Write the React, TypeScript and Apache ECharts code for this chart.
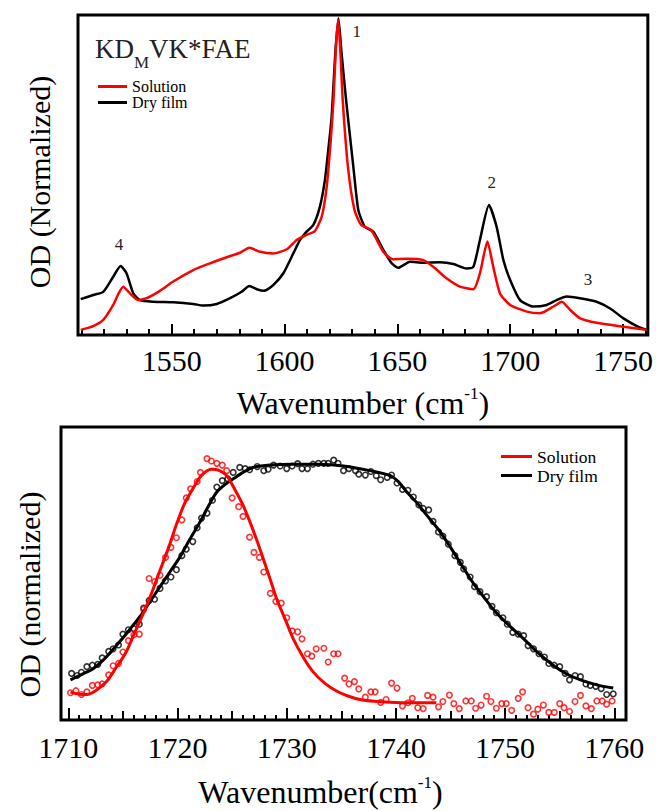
import React, { useEffect, useRef } from "react";
import * as echarts from "echarts";

const FONT = "Liberation Serif";

// ---------- Top panel: FTIR spectra ----------
const topSolutionX = [1509.7, 1515.3, 1519.7, 1524.1, 1526.5, 1528.5, 1531.5, 1535.2, 1538.9, 1544.8, 1550.7, 1559.6, 1567, 1574.4, 1580.3, 1584.4, 1589.2, 1595, 1601, 1605.4, 1609.8, 1613.5, 1616.5, 1618.7, 1620.5, 1621.7, 1622.8, 1623.8, 1624.8, 1625.8, 1628.1, 1631, 1634, 1638.4, 1643.8, 1648, 1654, 1661.5, 1665.9, 1671.8, 1677.7, 1683.7, 1686.6, 1689.9, 1692.5, 1695.5, 1700, 1707.4, 1713.3, 1719.2, 1722.9, 1726.6, 1731, 1738.4, 1750.2, 1760.5];
const topSolutionY = [0.016, 0.028, 0.047, 0.094, 0.13, 0.151, 0.13, 0.109, 0.115, 0.138, 0.167, 0.203, 0.224, 0.243, 0.257, 0.273, 0.26, 0.255, 0.268, 0.297, 0.313, 0.325, 0.37, 0.463, 0.609, 0.734, 0.9, 0.985, 0.88, 0.734, 0.526, 0.391, 0.344, 0.328, 0.26, 0.237, 0.238, 0.234, 0.213, 0.177, 0.151, 0.143, 0.193, 0.292, 0.213, 0.13, 0.094, 0.073, 0.068, 0.089, 0.104, 0.078, 0.052, 0.038, 0.026, 0.016];

const topDryX = [1509.7, 1515.3, 1519.7, 1524.1, 1527.4, 1530, 1533, 1536, 1541.8, 1550.7, 1559.6, 1564, 1570, 1575.9, 1581, 1584.4, 1587.7, 1590.9, 1595, 1599.5, 1603.9, 1606.9, 1609.8, 1612.8, 1615.7, 1617.9, 1619.4, 1620.9, 1622.5, 1623.9, 1625.3, 1627.3, 1630.5, 1632.7, 1635.6, 1639.3, 1643.8, 1647.5, 1650.4, 1655.6, 1661.5, 1668.9, 1674.8, 1680.7, 1683.7, 1686.6, 1690.6, 1694, 1697, 1700, 1704.4, 1710.3, 1716.2, 1720.6, 1725, 1730.9, 1738.3, 1744.3, 1750.2, 1756.1, 1760.5];
const topDryY = [0.112, 0.125, 0.135, 0.182, 0.216, 0.193, 0.13, 0.109, 0.104, 0.102, 0.097, 0.092, 0.097, 0.115, 0.135, 0.153, 0.143, 0.138, 0.156, 0.193, 0.255, 0.297, 0.323, 0.344, 0.401, 0.484, 0.578, 0.682, 0.88, 0.99, 0.88, 0.734, 0.526, 0.391, 0.338, 0.323, 0.266, 0.224, 0.21, 0.229, 0.226, 0.227, 0.222, 0.208, 0.213, 0.297, 0.406, 0.338, 0.234, 0.172, 0.109, 0.089, 0.094, 0.109, 0.12, 0.115, 0.104, 0.083, 0.052, 0.028, 0.016];

const topMajorTicks = [1550, 1600, 1650, 1700, 1750];
const topMinorTicks = [1510, 1520, 1530, 1540, 1560, 1570, 1580, 1590, 1610, 1620, 1630, 1640, 1660, 1670, 1680, 1690, 1710, 1720, 1730, 1740, 1760];

const peakLabels = ["1", "2", "3", "4"];
const peakX = [1632, 1691.8, 1734.5, 1526.7];
const peakY = [0.947, 0.476, 0.172, 0.284];

// ---------- Bottom panel: 1710-1760 band ----------
const solFitX = [1710.2, 1711.0, 1711.7, 1712.5, 1713.5, 1714.4, 1715.3, 1716.1, 1716.9, 1717.7, 1718.4, 1719.2, 1719.9, 1720.6, 1721.4, 1722.2, 1723.1, 1723.8, 1724.5, 1725.2, 1726.0, 1726.8, 1727.6, 1728.4, 1729.1, 1729.9, 1730.6, 1731.5, 1732.4, 1733.5, 1734.6, 1735.6, 1736.7, 1738, 1740, 1742, 1743.7];
const solFitY = [0.095, 0.088, 0.087, 0.1, 0.131, 0.18, 0.232, 0.3, 0.366, 0.44, 0.511, 0.59, 0.667, 0.735, 0.789, 0.835, 0.856, 0.852, 0.834, 0.79, 0.733, 0.66, 0.578, 0.49, 0.411, 0.34, 0.277, 0.215, 0.165, 0.125, 0.098, 0.082, 0.07, 0.064, 0.06, 0.059, 0.059];

const dryFitX = [1710.2, 1711.2, 1712.3, 1713.4, 1714.4, 1715.5, 1716.6, 1717.5, 1718.4, 1719.3, 1720.2, 1721.1, 1722.1, 1722.9, 1723.6, 1724.4, 1725.1, 1726.0, 1726.9, 1728.5, 1730.6, 1733, 1735.2, 1737.5, 1739.5, 1740.3, 1741, 1742, 1742.8, 1744, 1745, 1746, 1747.1, 1748.2, 1749.2, 1750.5, 1751.7, 1753, 1754.4, 1755.6, 1756.9, 1758.4, 1759.9];
const dryFitY = [0.137, 0.155, 0.176, 0.212, 0.254, 0.303, 0.355, 0.405, 0.455, 0.505, 0.555, 0.615, 0.678, 0.735, 0.778, 0.805, 0.823, 0.845, 0.862, 0.87, 0.873, 0.873, 0.867, 0.852, 0.834, 0.81, 0.778, 0.738, 0.7, 0.645, 0.589, 0.53, 0.466, 0.412, 0.366, 0.318, 0.277, 0.23, 0.187, 0.158, 0.137, 0.12, 0.109];

const solObsX = [
  1710.2, 1710.7, 1711.2, 1711.7, 1712.2, 1712.7, 1713.1, 1713.7, 1714.1, 1714.6,
  1715.0, 1715.5, 1716.0, 1716.5, 1716.9, 1717.4, 1717.9, 1718.4, 1718.9, 1719.4,
  1719.9, 1720.4, 1720.8, 1721.2, 1721.8, 1722.1, 1722.7, 1723.1, 1723.6, 1724.1,
  1724.5, 1725.0, 1725.6, 1726.0, 1726.6, 1727.0, 1727.5, 1727.9, 1728.5, 1729.0,
  1729.5, 1730.0, 1730.5, 1731.0, 1731.4, 1731.9, 1732.3, 1732.7, 1733.4, 1733.8,
  1734.3, 1734.7, 1735.3, 1735.7, 1736.2, 1736.6, 1737.2, 1737.7, 1738.1, 1738.6,
  1739.1, 1739.6, 1740.1, 1740.6, 1741.1, 1741.5, 1742.0, 1742.5, 1742.9, 1743.4,
  1743.9, 1744.3, 1744.9, 1745.3, 1745.8, 1746.4, 1746.9, 1747.3, 1747.8, 1748.3,
  1748.7, 1749.2, 1749.7, 1750.1, 1750.6, 1751.2, 1751.6, 1752.1, 1752.6, 1753.0,
  1753.5, 1754.0, 1754.5, 1755.0, 1755.4, 1755.9, 1756.4, 1756.9, 1757.4, 1757.9,
  1758.4, 1758.9, 1759.3, 1759.8,
];
const solObsY = [
  0.093, 0.1, 0.087, 0.096, 0.118, 0.12, 0.123, 0.154, 0.185, 0.193,
  0.232, 0.271, 0.29, 0.293, 0.377, 0.483, 0.472, 0.494, 0.555, 0.589,
  0.622, 0.683, 0.758, 0.789, 0.814, 0.845, 0.892, 0.884, 0.876, 0.87,
  0.851, 0.758, 0.728, 0.695, 0.624, 0.572, 0.555, 0.505, 0.432, 0.405,
  0.399, 0.349, 0.304, 0.301, 0.277, 0.226, 0.218, 0.243, 0.245, 0.198,
  0.226, 0.226, 0.143, 0.123, 0.131, 0.106, 0.078, 0.096, 0.096, 0.06,
  0.07, 0.126, 0.109, 0.048, 0.059, 0.074, 0.042, 0.039, 0.084, 0.078,
  0.045, 0.063, 0.085, 0.056, 0.039, 0.065, 0.065, 0.04, 0.051, 0.081,
  0.063, 0.04, 0.056, 0.056, 0.033, 0.074, 0.096, 0.042, 0.02, 0.037,
  0.051, 0.026, 0.026, 0.056, 0.042, 0.029, 0.063, 0.084, 0.048, 0.039,
  0.065, 0.065, 0.054, 0.065,
];

const dryObsX = [
  1710.3, 1710.8, 1711.2, 1711.7, 1712.2, 1712.7, 1713.1, 1713.7, 1714.1, 1714.6,
  1715.0, 1715.5, 1716.0, 1716.5, 1716.9, 1717.4, 1717.9, 1718.4, 1718.9, 1719.4,
  1719.9, 1720.4, 1720.8, 1721.4, 1721.8, 1722.2, 1722.7, 1723.2, 1723.6, 1724.1,
  1724.6, 1725.1, 1725.7, 1726.2, 1726.6, 1727.3, 1727.9, 1728.3, 1728.8, 1729.4,
  1730.0, 1730.5, 1731.0, 1731.4, 1731.9, 1732.4, 1732.9, 1733.4, 1733.8, 1734.3,
  1734.7, 1735.2, 1735.7, 1736.3, 1736.6, 1737.2, 1737.7, 1738.2, 1738.6, 1739.2,
  1739.6, 1740.1, 1740.6, 1741.1, 1741.6, 1742.1, 1742.5, 1743.0, 1743.4, 1743.9,
  1744.3, 1744.8, 1745.4, 1745.9, 1746.2, 1746.8, 1747.2, 1747.7, 1748.3, 1748.8,
  1749.2, 1749.8, 1750.2, 1750.7, 1751.2, 1751.7, 1752.1, 1752.6, 1753.1, 1753.6,
  1754.0, 1754.5, 1755.0, 1755.5, 1755.9, 1756.4, 1756.9, 1757.4, 1757.8, 1758.3,
  1758.8, 1759.3, 1759.9,
];
const dryObsY = [
  0.159, 0.152, 0.163, 0.182, 0.187, 0.19, 0.212, 0.234, 0.243, 0.256,
  0.293, 0.308, 0.312, 0.327, 0.382, 0.408, 0.412, 0.449, 0.475, 0.488,
  0.513, 0.561, 0.583, 0.609, 0.656, 0.689, 0.706, 0.75, 0.795, 0.817,
  0.823, 0.845, 0.862, 0.858, 0.854, 0.865, 0.851, 0.856, 0.87, 0.867,
  0.858, 0.867, 0.875, 0.858, 0.858, 0.873, 0.876, 0.876, 0.876, 0.887,
  0.876, 0.851, 0.858, 0.851, 0.839, 0.836, 0.848, 0.834, 0.82, 0.828,
  0.836, 0.809, 0.787, 0.784, 0.761, 0.734, 0.722, 0.717, 0.678, 0.642,
  0.628, 0.6, 0.561, 0.538, 0.516, 0.488, 0.455, 0.438, 0.421, 0.388,
  0.366, 0.349, 0.327, 0.299, 0.293, 0.288, 0.254, 0.243, 0.226, 0.215,
  0.193, 0.187, 0.182, 0.159, 0.137, 0.152, 0.148, 0.123, 0.118, 0.115,
  0.107, 0.087, 0.089,
];

const bottomLabelTicks = [1710, 1720, 1730, 1740, 1750, 1760];
const bottomMidTicks = [1715, 1725, 1735, 1745, 1755];

const zip = (xs: number[], ys: number[]) => xs.map((x, i) => [x, ys[i]]);

const RED = "#ff0000";
const BLACK = "#000000";

export default function App() {
  const ref = useRef<HTMLDivElement>(null);

  useEffect(() => {
    if (!ref.current) return;
    const chart = echarts.init(ref.current, null, { renderer: "svg" });

    const bottomMinorTicks: number[] = [];
    for (let v = 1710; v <= 1760; v++) bottomMinorTicks.push(v);

    const topMin = 1508.5, topMax = 1761;
    const botMin = 1709.33, botMax = 1761.07;

    const hiddenY = {
      type: "value" as const,
      min: 0,
      max: 1,
      axisLine: { show: false },
      axisTick: { show: false },
      axisLabel: { show: false },
      splitLine: { show: false },
    };

    const tickAxis = (grid: number, min: number, max: number, vals: number[], len: number) => ({
      gridIndex: grid,
      type: "value" as const,
      position: "bottom" as const,
      min,
      max,
      axisLine: { show: false },
      splitLine: { show: false },
      axisTick: { show: true, inside: true, length: len, lineStyle: { color: BLACK, width: 2 }, customValues: vals },
      axisLabel: { show: false },
    });

    const labelStyle = {
      show: true,
      fontSize: 30,
      fontFamily: FONT,
      color: BLACK,
      formatter: (v: number) => String(v),
    };

    const nameRich = {
      sup: { fontSize: 17, fontFamily: FONT, color: BLACK, verticalAlign: "top", lineHeight: 20 },
    };

    chart.setOption({
      animation: false,
      backgroundColor: "#ffffff",
      grid: [
        { left: 78, top: 15, width: 570, height: 320, show: true, borderColor: BLACK, borderWidth: 3, backgroundColor: "transparent" },
        { left: 61, top: 427, width: 565, height: 299, show: true, borderColor: BLACK, borderWidth: 3, backgroundColor: "transparent" },
      ],
      xAxis: [
        {
          ...tickAxis(0, topMin, topMax, topMajorTicks, 11),
          axisLabel: { ...labelStyle, margin: 10, customValues: topMajorTicks },
          name: "Wavenumber (cm{sup|-1})",
          nameLocation: "middle",
          nameGap: 50,
          nameTextStyle: { fontSize: 32, fontFamily: FONT, color: BLACK, lineHeight: 36, rich: nameRich },
        },
        tickAxis(0, topMin, topMax, topMinorTicks, 6),
        {
          ...tickAxis(1, botMin, botMax, bottomLabelTicks, 12),
          axisLabel: { ...labelStyle, margin: 12, customValues: bottomLabelTicks },
          name: "Wavenumber(cm{sup|-1})",
          nameLocation: "middle",
          nameGap: 54,
          nameTextStyle: { fontSize: 32, fontFamily: FONT, color: BLACK, lineHeight: 36, padding: [0, 46, 0, 0], rich: nameRich },
        },
        tickAxis(1, botMin, botMax, bottomMidTicks, 9),
        tickAxis(1, botMin, botMax, bottomMinorTicks, 5),
      ],
      yAxis: [
        {
          ...hiddenY,
          gridIndex: 0,
          name: "OD (Normalized)",
          nameLocation: "middle",
          nameGap: 24,
          nameTextStyle: { fontSize: 30, fontFamily: FONT, color: BLACK, padding: [0, 14, 0, 0] },
        },
        {
          ...hiddenY,
          gridIndex: 1,
          name: "OD (normalized)",
          nameLocation: "middle",
          nameGap: 17,
          nameTextStyle: { fontSize: 30, fontFamily: FONT, color: BLACK, padding: [0, 42, 0, 0] },
        },
      ],
      legend: [
        {
          data: [
            { name: "Solution", itemStyle: { color: RED } },
            { name: "Dry film", itemStyle: { color: BLACK } },
          ],
          orient: "vertical",
          left: 98,
          top: 78.5,
          itemWidth: 29,
          itemHeight: 3,
          itemGap: 0,
          padding: 0,
          icon: "rect",
          selectedMode: false,
          textStyle: { fontSize: 16, fontFamily: FONT, color: BLACK, lineHeight: 15 },
        },
        {
          data: [
            { name: "Solution", itemStyle: { color: RED } },
            { name: "Dry film", itemStyle: { color: BLACK } },
          ],
          orient: "vertical",
          left: 501,
          top: 447,
          itemWidth: 31,
          itemHeight: 3,
          itemGap: 0,
          padding: 0,
          icon: "rect",
          selectedMode: false,
          textStyle: { fontSize: 17.5, fontFamily: FONT, color: BLACK, lineHeight: 19 },
        },
      ],
      graphic: [
        {
          type: "text",
          x: 95,
          y: 27,
          style: {
            text: "{a|KD}{sub|M}{a|VK*FAE}",
            align: "left",
            verticalAlign: "top",
            rich: {
              a: { fontSize: 27, fontFamily: FONT, fill: "#222222", lineHeight: 44 },
              sub: { fontSize: 17, fontFamily: FONT, fill: "#222222", lineHeight: 19, verticalAlign: "bottom" },
            },
          },
        },
      ],
      series: [
        {
          type: "line",
          name: "Dry film",
          xAxisIndex: 0,
          yAxisIndex: 0,
          data: zip(topDryX, topDryY),
          symbol: "none",
          smooth: 0.2,
          lineStyle: { color: BLACK, width: 2.5 },
          itemStyle: { color: BLACK },
          z: 2,
          markPoint: {
            symbol: "circle",
            symbolSize: 1,
            itemStyle: { color: "rgba(0,0,0,0)" },
            label: { show: true, position: "inside", formatter: "{b}", fontSize: 17, fontFamily: FONT, color: "#222222", textBorderWidth: 0 },
            data: peakLabels.map((n, i) => ({ name: n, coord: [peakX[i], peakY[i]] })),
          },
        },
        {
          type: "line",
          name: "Solution",
          xAxisIndex: 0,
          yAxisIndex: 0,
          data: zip(topSolutionX, topSolutionY),
          symbol: "none",
          smooth: 0.2,
          lineStyle: { color: RED, width: 2.5 },
          itemStyle: { color: RED },
          z: 3,
        },
        {
          type: "line",
          name: "Dry film",
          xAxisIndex: 2,
          yAxisIndex: 1,
          data: zip(dryFitX, dryFitY),
          symbol: "none",
          smooth: 0.3,
          lineStyle: { color: BLACK, width: 3 },
          itemStyle: { color: BLACK },
          z: 3,
        },
        {
          type: "line",
          name: "Solution",
          xAxisIndex: 2,
          yAxisIndex: 1,
          data: zip(solFitX, solFitY),
          symbol: "none",
          smooth: 0.3,
          lineStyle: { color: RED, width: 3 },
          itemStyle: { color: RED },
          z: 3,
        },
        {
          type: "scatter",
          name: "Dry film",
          xAxisIndex: 2,
          yAxisIndex: 1,
          data: zip(dryObsX, dryObsY),
          symbol: "circle",
          symbolSize: 5.5,
          itemStyle: { color: "rgba(255,255,255,0)", borderColor: BLACK, borderWidth: 1.6 },
          z: 2,
        },
        {
          type: "scatter",
          name: "Solution",
          xAxisIndex: 2,
          yAxisIndex: 1,
          data: zip(solObsX, solObsY),
          symbol: "circle",
          symbolSize: 5.5,
          itemStyle: { color: "rgba(255,255,255,0)", borderColor: RED, borderWidth: 1.6 },
          z: 2,
        },
      ],
    });

    return () => chart.dispose();
  }, []);

  return (
    <div
      ref={ref}
      style={{ position: "absolute", left: 0, top: 0, width: 656, height: 811, background: "#fff" }}
    />
  );
}
